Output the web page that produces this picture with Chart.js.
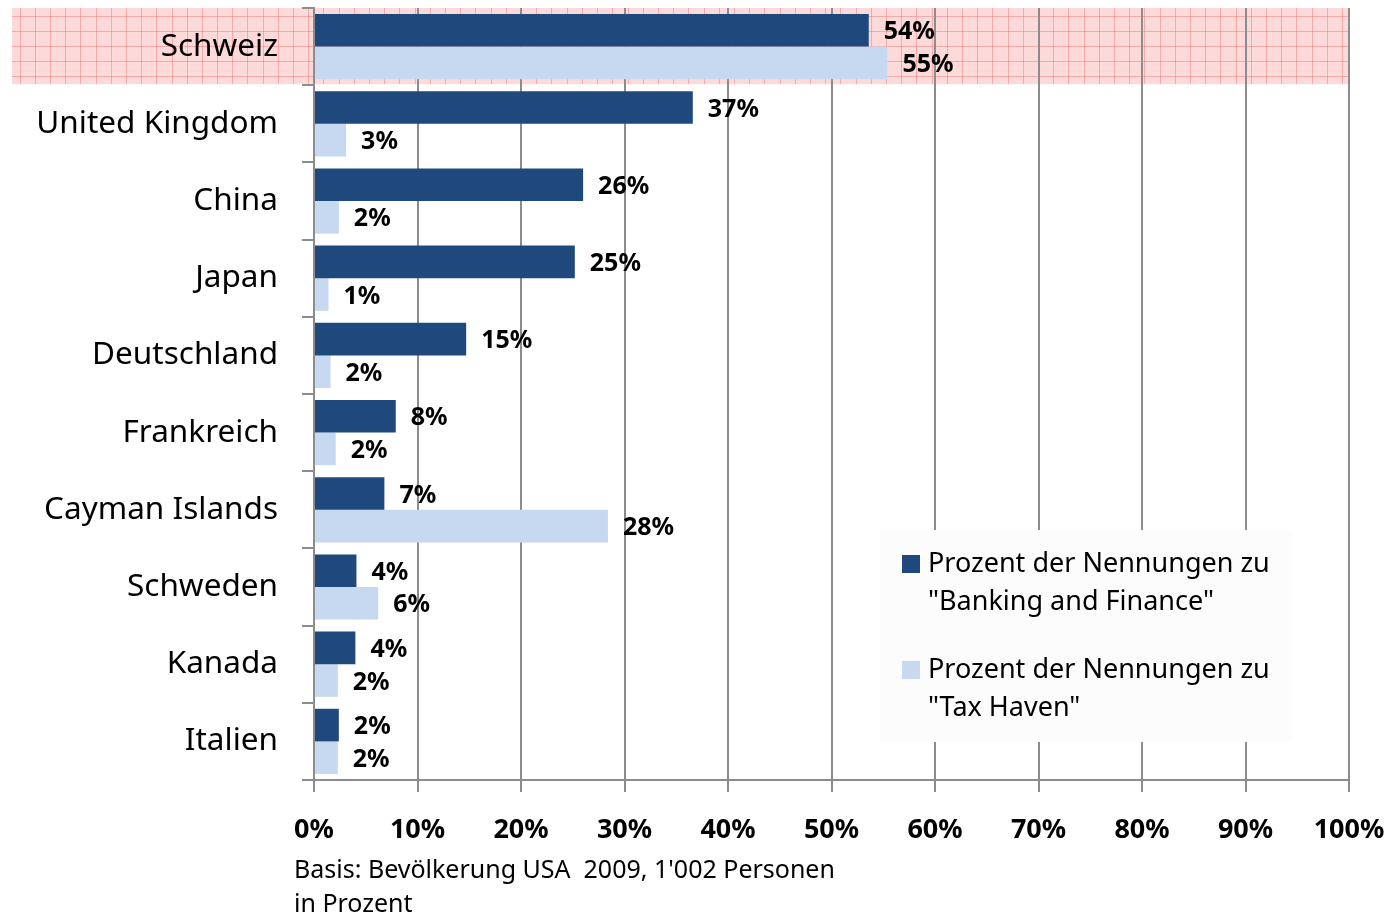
<!DOCTYPE html>
<html>
<head>
<meta charset="utf-8">
<script src="https://cdn.jsdelivr.net/npm/chart.js@4.4.1/dist/chart.umd.min.js"></script>
<style>
  html, body { margin: 0; padding: 0; background: #fff; }
  #wrap { width: 1391px; height: 921px; position: relative; }
</style>
</head>
<body>
<div id="wrap"><canvas id="barChart" width="1391" height="921"></canvas></div>
<script>
const countries = ['Schweiz', 'United Kingdom', 'China', 'Japan', 'Deutschland', 'Frankreich', 'Cayman Islands', 'Schweden', 'Kanada', 'Italien'];
const bankingFinance = [53.6, 36.6, 26.0, 25.2, 14.7, 7.9, 6.8, 4.1, 4.0, 2.4];
const taxHaven = [55.4, 3.1, 2.4, 1.4, 1.6, 2.1, 28.4, 6.2, 2.3, 2.3];
const seriesNames = ['Prozent der Nennungen zu "Banking and Finance"', 'Prozent der Nennungen zu "Tax Haven"'];
const seriesColors = ['#1f497d', '#c6d9f1'];
const highlighted = 'Schweiz';
const footnote = ["Basis: Bevölkerung USA  2009, 1'002 Personen", 'in Prozent'];

const FONT = "'Noto Sans', 'Open Sans', sans-serif";
const gridGray = '#8c8c8c';

// pink graph-paper band behind the highlighted row
const highlightBand = {
  id: 'highlightBand',
  beforeDraw(chart) {
    const { ctx, scales: { x, y } } = chart;
    const idx = countries.indexOf(highlighted);
    const step = (y.bottom - y.top) / countries.length;
    const top = y.getPixelForValue(idx) - step / 2;
    const left = 12, right = x.right, h = step - 1;
    ctx.save();
    ctx.fillStyle = '#fddada';
    ctx.fillRect(left, top, right - left, h);
    ctx.strokeStyle = 'rgba(235, 110, 110, 0.45)';
    ctx.lineWidth = 1;
    ctx.beginPath();
    for (let gx = left + 7.5; gx < right; gx += 15.2) {
      ctx.moveTo(Math.round(gx) + 0.5, top);
      ctx.lineTo(Math.round(gx) + 0.5, top + h);
    }
    for (let gy = top + 7.5; gy < top + h; gy += 15.2) {
      ctx.moveTo(left, Math.round(gy) + 0.5);
      ctx.lineTo(right, Math.round(gy) + 0.5);
    }
    ctx.stroke();
    ctx.restore();
  }
};

// value labels, legend box and footnote
const extras = {
  id: 'extras',
  afterDatasetsDraw(chart) {
    const { ctx } = chart;
    ctx.save();
    ctx.font = 'bold 25px ' + FONT;
    ctx.fillStyle = '#000';
    ctx.textAlign = 'left';
    ctx.textBaseline = 'middle';
    chart.data.datasets.forEach((ds, di) => {
      chart.getDatasetMeta(di).data.forEach((bar, i) => {
        ctx.fillText(Math.round(ds.data[i]) + '%', bar.x + 15, bar.y + 2);
      });
    });
    ctx.restore();
  },
  afterDraw(chart) {
    const { ctx } = chart;
    ctx.save();
    // legend
    ctx.fillStyle = '#fcfcfc';
    ctx.fillRect(880, 530, 412, 212);
    ctx.font = '27px ' + FONT;
    ctx.textBaseline = 'middle';
    ctx.textAlign = 'left';
    const lineH = 38;
    const starts = [564, 670];
    chart.data.datasets.forEach((ds, di) => {
      const cy = starts[di];
      ctx.fillStyle = ds.backgroundColor;
      ctx.fillRect(902, cy - 9, 18, 18);
      ctx.fillStyle = '#000';
      const words = ds.label.split(' ');
      const lines = [];
      let cur = '';
      words.forEach(w => {
        const t = cur ? cur + ' ' + w : w;
        if (ctx.measureText(t).width > 355 && cur) { lines.push(cur); cur = w; } else cur = t;
      });
      lines.push(cur);
      lines.forEach((l, li) => ctx.fillText(l, 928, cy + li * lineH));
    });
    // footnote
    ctx.font = '25px ' + FONT;
    ctx.fillStyle = '#000';
    footnote.forEach((l, i) => ctx.fillText(l, 294, 871 + i * 34));
    ctx.restore();
  }
};

new Chart(document.getElementById('barChart'), {
  type: 'bar',
  data: {
    labels: countries,
    datasets: seriesNames.map((name, i) => ({
      label: name,
      data: i === 0 ? bankingFinance : taxHaven,
      backgroundColor: seriesColors[i],
      borderWidth: 0,
      barPercentage: 1,
      categoryPercentage: 0.845
    }))
  },
  options: {
    indexAxis: 'y',
    responsive: false,
    animation: false,
    devicePixelRatio: 1,
    layout: { padding: { top: 8, right: 42, left: 0, bottom: 0 } },
    plugins: {
      legend: { display: false },
      tooltip: { enabled: false }
    },
    scales: {
      x: {
        min: 0,
        max: 100,
        ticks: {
          stepSize: 10,
          padding: 22,
          color: '#000',
          font: { family: FONT, size: 27, weight: 'bold' },
          callback: v => v + '%'
        },
        grid: { color: gridGray, lineWidth: 2, tickLength: 12 },
        border: { color: gridGray, width: 2 },
        afterFit(s) { s.height = 141; s.paddingLeft = 0; s.paddingRight = 0; }
      },
      y: {
        ticks: {
          padding: 24,
          color: '#000',
          font: { family: FONT, size: 31.5 }
        },
        grid: { drawOnChartArea: false, color: gridGray, lineWidth: 2, tickLength: 12, offset: true },
        border: { color: gridGray, width: 2 },
        afterFit(s) { s.width = 314; s.paddingTop = 0; s.paddingBottom = 0; }
      }
    }
  },
  plugins: [highlightBand, extras]
});
</script>
</body>
</html>
